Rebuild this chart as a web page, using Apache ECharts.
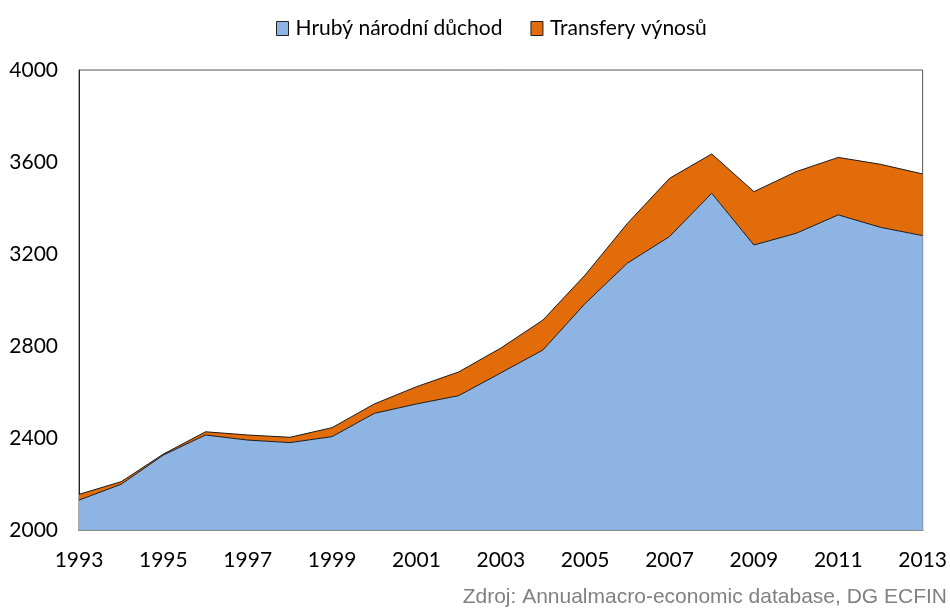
<!DOCTYPE html>
<html><head><meta charset="utf-8">
<script src="https://cdn.jsdelivr.net/npm/echarts@6/dist/echarts.min.js"></script>
<style>html,body{margin:0;padding:0;background:#fff}#c{width:950px;height:608px}</style>
</head><body><div id="c"></div>
<script>
const years = ['1993','1994','1995','1996','1997','1998','1999','2000','2001','2002','2003','2004','2005','2006','2007','2008','2009','2010','2011','2012','2013'];
const hnd = [2130,2199,2326,2413,2391,2380,2406,2507,2548,2584,2683,2783,2985,3160,3276,3464,3239,3290,3370,3316,3280];
const transfery = [25,11,4,14,22,23,39,41,75,103,108,130,124,173,253,171,232,268,250,274,268];
const seriesNames = ['Hrubý národní důchod','Transfery výnosů'];
const yTicks = {min:2000, max:4000, interval:400};
const sourceText = 'Zdroj: Annualmacro-economic database, DG ECFIN';

const chart = echarts.init(document.getElementById('c'), null, {renderer:'canvas'});
const font = 'Lato, "Open Sans", sans-serif';
chart.setOption({
  animation:false,
  backgroundColor:'#fff',
  legend:{
    top:13, left:271, itemWidth:12, itemHeight:14, itemGap:28,
    icon:'rect',
    textStyle:{fontFamily:font, fontSize:21, color:'#000', padding:[0,0,0,2]},
    data:seriesNames.map((n,i)=>({name:n, itemStyle:{borderColor:'#222', borderWidth:1}}))
  },
  grid:{left:79, right:25, top:70, bottom:78, show:true, borderColor:'#555', borderWidth:1},
  xAxis:{
    type:'category', data:years, boundaryGap:false,
    axisLine:{lineStyle:{color:'#888', width:2}},
    axisTick:{show:false},
    axisLabel:{interval:1, margin:20, fontFamily:font, fontSize:21, color:'#000'}
  },
  yAxis:{
    type:'value', min:yTicks.min, max:yTicks.max, interval:yTicks.interval,
    splitLine:{show:false},
    axisLine:{show:true, lineStyle:{color:'#222'}},
    axisTick:{show:false},
    axisLabel:{margin:21, fontFamily:font, fontSize:21, color:'#000', formatter:v=>String(v)}
  },
  graphic:[{type:'text', right:3, bottom:0, style:{text:sourceText, fontFamily:'"Liberation Sans", Arial, sans-serif', fontSize:21, fill:'#808080'}}],
  series:[
    {name:seriesNames[0], type:'line', stack:'t', data:hnd, symbol:'none', z:3,
     lineStyle:{color:'#1a1a1a', width:1}, itemStyle:{color:'#8EB4E3'},
     areaStyle:{color:'#8EB4E3', opacity:1}},
    {name:seriesNames[1], type:'line', stack:'t', data:transfery, symbol:'none', z:2,
     lineStyle:{color:'#1a1a1a', width:1}, itemStyle:{color:'#E36C0A'},
     areaStyle:{color:'#E36C0A', opacity:1}}
  ]
});
</script></body></html>
